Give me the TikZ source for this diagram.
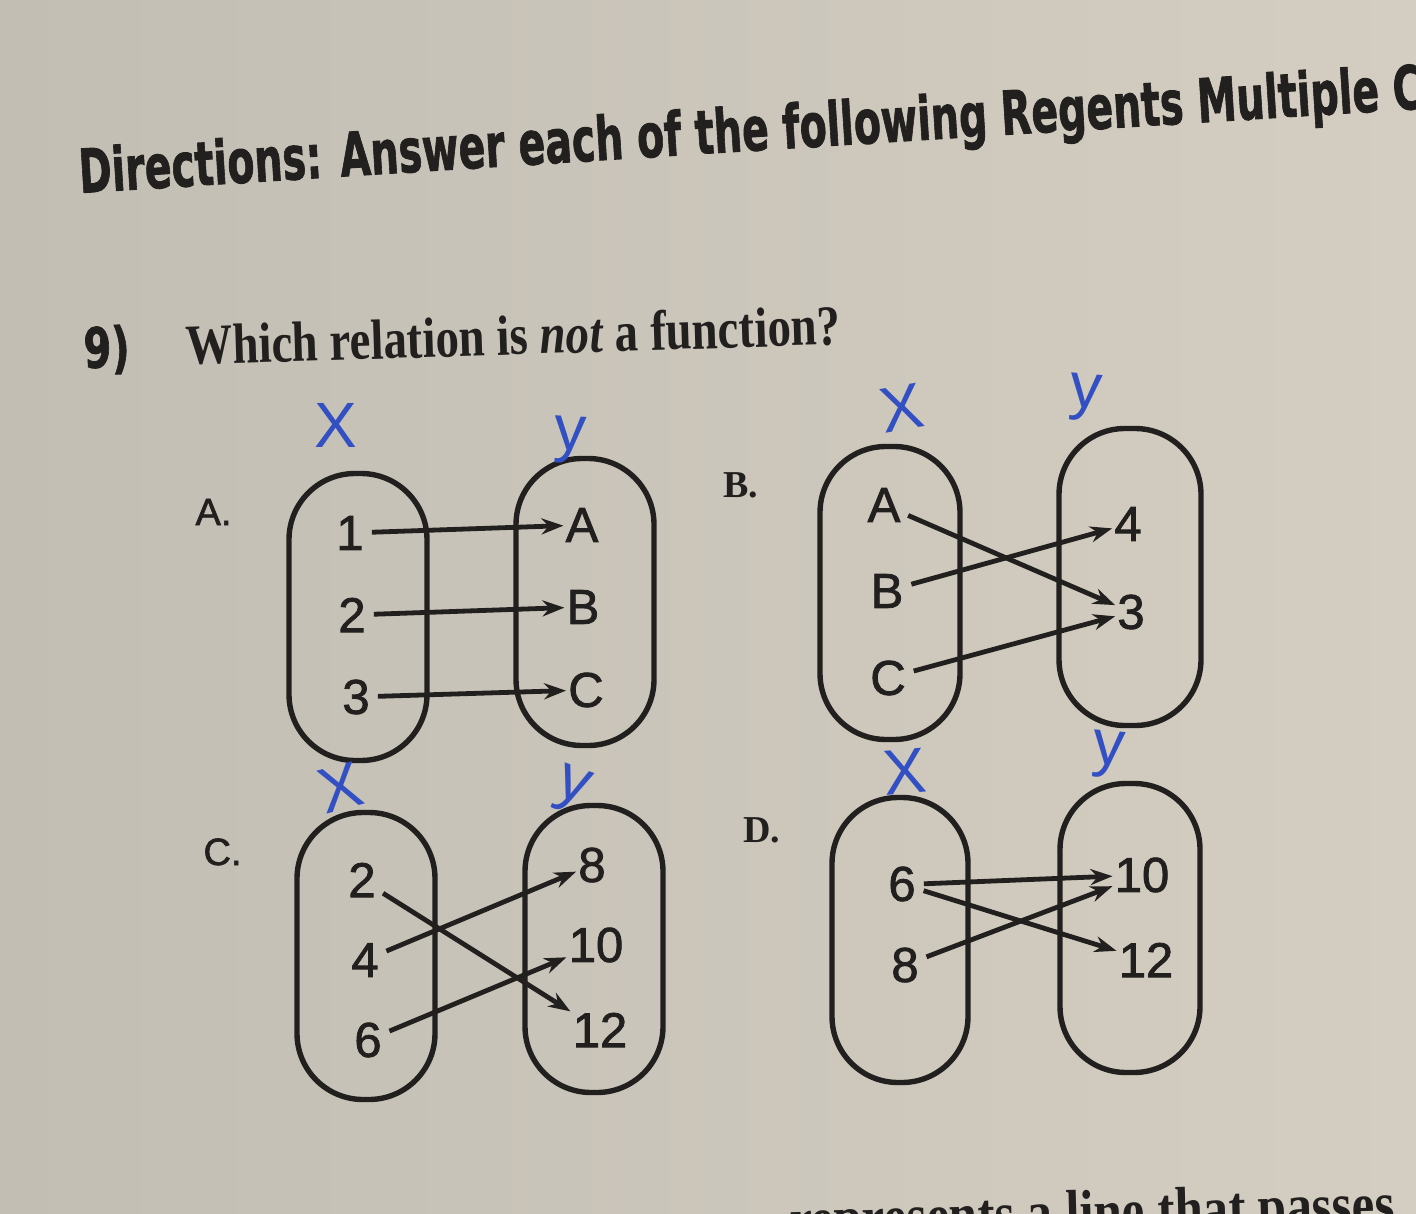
\documentclass[tikz,border=0pt]{standalone}
\usepackage{fontspec}
\setmainfont{Liberation Serif}
\newfontfamily\numfont[FakeBold=1.6]{Liberation Sans}
\newfontfamily\plainsans{Liberation Sans}
\newfontfamily\headfont[FakeBold=1.5]{DejaVu Sans}
\usetikzlibrary{arrows.meta}
\definecolor{paper}{RGB}{212,205,194}
\definecolor{paperdark}{RGB}{194,190,179}
\definecolor{ink}{RGB}{34,32,31}
\definecolor{pen}{RGB}{50,80,195}
\begin{document}
\begin{tikzpicture}[x=1pt,y=-1pt,
  oval/.style={draw=ink, line width=5.4pt, rounded corners=66pt, minimum width=138pt, minimum height=287pt, inner sep=0pt},
  elt/.style={font=\numfont\fontsize{49}{51}\selectfont, text=ink, inner sep=3pt},
  arr/.style={draw=ink, line width=4.8pt, shorten <=5pt, shorten >=-1pt, -{Stealth[length=22pt,width=16pt]}},
  optsans/.style={font=\numfont\fontsize{38}{40}\selectfont, text=ink, anchor=base west},
  optserif/.style={font=\bfseries\fontsize{38}{40}\selectfont, text=ink, anchor=base west},
  hand/.style={font=\plainsans\fontsize{64}{66}\selectfont, text=pen, inner sep=0pt}
]
\useasboundingbox (0,0) rectangle (1416,1214);
\clip (0,0) rectangle (1416,1214);
\shade[left color=paperdark, right color=paper] (0,0) rectangle (1416,1214);

% heading
\node[anchor=base west, rotate=3.6, inner sep=0pt, text=ink, font=\headfont\bfseries] (title) at (80,193)
  {\resizebox{1345pt}{46pt}{Directions: Answer each of the following Regents Multiple C}};

% question
\node[anchor=base west, rotate=1.8, inner sep=0pt, text=ink, font=\headfont\bfseries] (qnum) at (84,368)
  {\resizebox{46pt}{42pt}{9)}};
\node[anchor=base west, rotate=1.8, inner sep=0pt, text=ink] (qtext) at (186,365)
  {\resizebox{655pt}{40pt}{\textbf{Which relation is \textit{not} a function?}}};

% option labels
\node[optsans] (labA) at (192,525) {A.};
\node[optserif] (labB) at (720,497) {B.};
\node[optsans] (labC) at (200,865) {C.};
\node[optserif] (labD) at (740,842) {D.};

% ---------- A ----------
\node[oval] (AX) at (358,617) {};
\node[oval] (AY) at (585,602) {};
\node[elt] (a1) at (350,533) {1};
\node[elt] (a2) at (352,615) {2};
\node[elt] (a3) at (356,697) {3};
\node[elt] (aA) at (582,525) {A};
\node[elt] (aB) at (583,607) {B};
\node[elt] (aC) at (586,690) {C};
\draw[arr] (a1) -- (aA);
\draw[arr] (a2) -- (aB);
\draw[arr] (a3) -- (aC);
\node[hand] (ax) at (336,425) {X};
\node[hand, rotate=-3] (ay) at (570,440) {y};

% ---------- B ----------
\node[oval, minimum width=140pt, minimum height=293pt] (BX) at (890,593) {};
\node[oval, minimum width=142pt, minimum height=297pt] (BY) at (1130,577) {};
\node[elt] (bA) at (884,505) {A};
\node[elt] (bB) at (887,591) {B};
\node[elt] (bC) at (888,678) {C};
\node[elt] (b4) at (1128,524) {4};
\node[elt] (b3) at (1131,612) {3};
\draw[arr] (bA) -- (b3);
\draw[arr] (bB) -- (b4);
\draw[arr] (bC) -- (b3);
\node[hand, rotate=10] (bx) at (902,408) {X};
\node[hand, rotate=-5] (by) at (1085,398) {y};

% ---------- C ----------
\node[oval] (CX) at (366,956) {};
\node[oval] (CY) at (594,949) {};
\node[elt] (c2) at (362,880) {2};
\node[elt] (c4) at (365,960) {4};
\node[elt] (c6) at (368,1040) {6};
\node[elt] (c8) at (592,865) {8};
\node[elt] (c10) at (596,945) {10};
\node[elt] (c12) at (600,1030) {12};
\draw[arr] (c2) -- (c12);
\draw[arr] (c4) -- (c8);
\draw[arr] (c6) -- (c10);
\node[hand, rotate=15] (cx) at (340,788) {X};
\node[hand, rotate=-20] (cy) at (572,790) {y};

% ---------- D ----------
\node[oval, minimum width=136pt, minimum height=285pt] (DX) at (900,940) {};
\node[oval, minimum width=140pt, minimum height=289pt] (DY) at (1130,928) {};
\node[elt] (d6) at (902,884) {6};
\node[elt] (d8) at (905,965) {8};
\node[elt] (d10) at (1142,875) {10};
\node[elt] (d12) at (1146,960) {12};
\draw[arr] (d6.east) -- (d10);
\draw[arr] (d6) -- (d12);
\draw[arr] (d8) -- (d10);
\node[hand, rotate=5] (dx) at (905,772) {X};
\node[hand, rotate=-5] (dy) at (1108,755) {y};

% next question, cut off by the page edge
\node[anchor=base west, rotate=1.5, inner sep=0pt, text=ink] (next) at (790,1240)
  {\resizebox{605pt}{42pt}{\textbf{represents a line that passes}}};
\end{tikzpicture}
\end{document}
